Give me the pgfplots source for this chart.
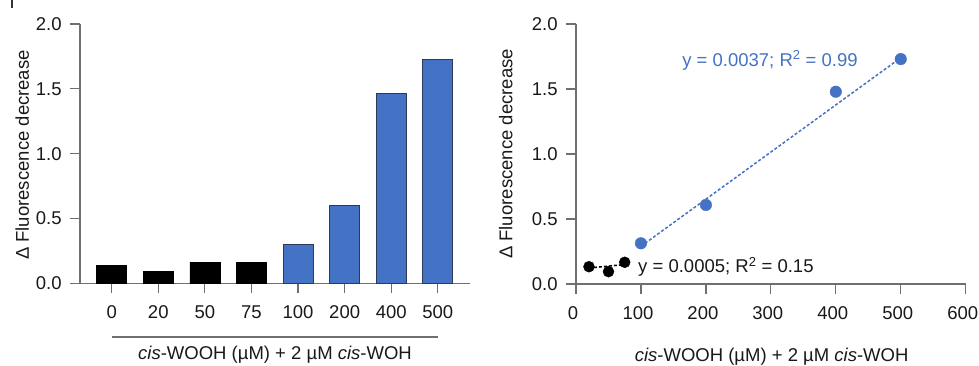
\documentclass[border=0pt]{standalone}
\usepackage{pgfplots}
\pgfplotsset{compat=1.18}
\usepackage{fontspec}
\setmainfont{Liberation Sans}
\definecolor{myblue}{HTML}{4472C4}
\definecolor{axgray}{HTML}{707070}
\definecolor{bardark}{HTML}{2B3A55}
\begin{document}
\fontsize{18.5}{21}\selectfont
\begin{tikzpicture}
\useasboundingbox (0pt,0pt) rectangle (979pt,366pt);
\draw[line width=1.6pt,black!80] (12pt,366pt) -- (12pt,358pt);
\pgfplotsset{
  common/.style={
    scale only axis,
    anchor=south west,
    axis x line=bottom, axis y line=left,
    axis line style={-, axgray, line width=1.2pt},
    every tick/.style={axgray, line width=1.2pt},
    tick align=outside,
    major tick length=10pt,
    ymin=0, ymax=2,
    ytick={0,0.5,1,1.5,2},
    yticklabel style={/pgf/number format/fixed, /pgf/number format/fixed zerofill, /pgf/number format/precision=1, xshift=-2pt},
    xticklabel style={yshift=-6pt},
    /pgf/number format/assume math mode=true,
    tick label style={font=\fontsize{18.5}{21}\selectfont, black!90},
    label style={font=\fontsize{18.5}{21}\selectfont, black!90},
    clip=false,
  }
}
\begin{axis}[common,
  at={(80pt,82.5pt)},
  width=390pt, height=259.5pt,
  xmin=-0.68, xmax=7.69,
  xtick={0,1,2,3,4,5,6,7},
  xticklabels={0,20,50,75,100,200,400,500},
  xlabel={\textit{cis}-WOOH (µM) + 2 µM \textit{cis}-WOH},
  xlabel style={at={(axis description cs:0.5,-0.2755)}, anchor=center},
  ylabel={Δ Fluorescence decrease},
  ylabel style={at={(axis description cs:-0.148,0.495)}, anchor=center},
]
\addplot[ybar, bar width=30pt, bar shift=0pt, fill=black, draw=black, line width=0.6pt]
  coordinates {(0,0.137) (1,0.091) (2,0.163) (3,0.163)};
\addplot[ybar, bar width=30pt, bar shift=0pt, fill=myblue, draw=bardark, line width=0.9pt]
  coordinates {(4,0.304) (5,0.603) (6,1.466) (7,1.725)};
\draw[axgray, line width=1.1pt] (axis cs:0,-0.412) -- (axis cs:7,-0.412);
\end{axis}
\begin{axis}[common,
  at={(576pt,82pt)},
  width=389.7pt, height=260pt,
  xmin=0, xmax=600,
  xtick={0,100,200,300,400,500,600},
  xticklabel style={xshift=-3pt},
  xlabel={\textit{cis}-WOOH (µM) + 2 µM \textit{cis}-WOH},
  xlabel style={at={(axis description cs:0.502,-0.28)}, anchor=center},
  ylabel={Δ Fluorescence decrease},
  ylabel style={at={(axis description cs:-0.18,0.5)}, anchor=center},
]
\addplot[myblue, line width=1.5pt, dash pattern=on 3pt off 2pt]
  coordinates {(100,0.29) (500,1.74)};
\addplot[black, line width=1.5pt, dash pattern=on 3pt off 2pt]
  coordinates {(20,0.123) (75,0.150)};
\addplot[only marks, mark=*, mark size=5.8pt, mark options={fill=myblue, draw=myblue}]
  coordinates {(100,0.313) (200,0.608) (400,1.479) (500,1.73)};
\addplot[only marks, mark=*, mark size=5.5pt, mark options={fill=black, draw=black}]
  coordinates {(20,0.133) (50,0.095) (75,0.167)};
\node[anchor=center, text=myblue, font=\fontsize{18.5}{21}\selectfont] at (axis cs:298.7,1.72) {y = 0.0037; R\textsuperscript{2} = 0.99};
\node[anchor=west, text=black!90, font=\fontsize{18.5}{21}\selectfont] at (axis cs:86,0.13) {y = 0.0005; R\textsuperscript{2} = 0.15};
\end{axis}
\end{tikzpicture}
\end{document}
